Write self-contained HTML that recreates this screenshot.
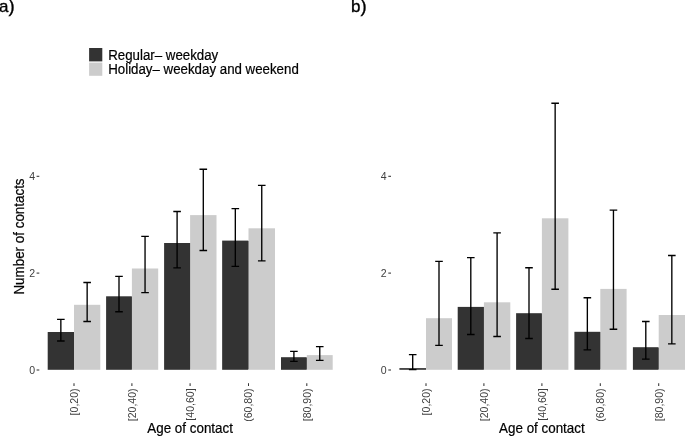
<!DOCTYPE html>
<html><head><meta charset="utf-8"><style>
html,body{margin:0;padding:0;background:#fff;}
body{width:685px;height:436px;overflow:hidden;}
svg{display:block;will-change:transform;font-family:"Liberation Sans",sans-serif;}
.yl{font-size:10.56px;fill:#404040;text-anchor:end;}
.xl{font-size:10.56px;fill:#404040;text-anchor:end;}
.tt{font-size:13.4px;fill:#000;stroke:#000;stroke-width:0.2px;}
.tk{stroke:#333;stroke-width:1.05;fill:none;}
.eb path{stroke:#000;stroke-width:1.35;fill:none;}
.lg{font-size:13.3px;fill:#000;stroke:#000;stroke-width:0.2px;}
.pl{font-size:17px;fill:#000;stroke:#000;stroke-width:0.35px;}
</style></head><body>
<svg width="685" height="436" viewBox="0 0 685 436">

<text class="pl" x="-1.0" y="12.4">a<tspan style="font-size:18.5px">)</tspan></text>
<text class="pl" x="351.0" y="12.4">b<tspan style="font-size:18.5px">)</tspan></text>
<rect x="89.1" y="48" width="13.2" height="13.4" fill="#333333"/>
<rect x="89.1" y="62.6" width="13.2" height="13.2" fill="#CCCCCC"/>
<text class="lg" transform="translate(108.2 59.8) scale(1 1.1)">Regular– weekday</text>
<text class="lg" transform="translate(108.2 73.8) scale(1 1.1)">Holiday– weekday and weekend</text>
<g>
<rect x="47.7" y="332" width="26.3" height="37.8" fill="#333333"/>
<rect x="74" y="304.8" width="26.3" height="65" fill="#CCCCCC"/>
<rect x="74" y="332" width="1" height="37" fill="#cccccc"/>
<rect x="106.1" y="296.3" width="25.8" height="73.5" fill="#333333"/>
<rect x="131.9" y="268.5" width="26.3" height="101.3" fill="#CCCCCC"/>
<rect x="131" y="297" width="1" height="72" fill="#424242"/>
<rect x="164.1" y="243" width="26" height="126.8" fill="#333333"/>
<rect x="190.1" y="215.1" width="26.4" height="154.7" fill="#CCCCCC"/>
<rect x="190" y="243" width="1" height="126" fill="#bdbdbd"/>
<rect x="222.15" y="240.6" width="26.35" height="129.2" fill="#333333"/>
<rect x="248.5" y="228.3" width="26.5" height="141.5" fill="#CCCCCC"/>
<rect x="248" y="241" width="1" height="128" fill="#808080"/>
<rect x="281" y="357.2" width="25.8" height="12.6" fill="#333333"/>
<rect x="306.8" y="355.1" width="25.9" height="14.7" fill="#CCCCCC"/>
<rect x="306" y="358" width="1" height="11" fill="#525252"/>
<rect x="399.4" y="368.1" width="26.6" height="1.7" fill="#333333"/>
<rect x="426" y="318.2" width="26" height="51.6" fill="#CCCCCC"/>
<rect x="457.7" y="306.9" width="26.2" height="62.9" fill="#333333"/>
<rect x="483.9" y="302.3" width="26.4" height="67.5" fill="#CCCCCC"/>
<rect x="483" y="307" width="1" height="62" fill="#424242"/>
<rect x="516.1" y="313.2" width="25.8" height="56.6" fill="#333333"/>
<rect x="541.9" y="218.3" width="26.5" height="151.5" fill="#CCCCCC"/>
<rect x="541" y="314" width="1" height="55" fill="#424242"/>
<rect x="574.4" y="331.8" width="25.9" height="38" fill="#333333"/>
<rect x="600.3" y="288.9" width="26.3" height="80.9" fill="#CCCCCC"/>
<rect x="600" y="332" width="1" height="37" fill="#9e9e9e"/>
<rect x="632.9" y="347.2" width="25.8" height="22.6" fill="#333333"/>
<rect x="658.7" y="315" width="26.3" height="54.8" fill="#CCCCCC"/>
<rect x="658" y="348" width="1" height="21" fill="#616161"/>
</g>
<g class="eb">
<path d="M57.05 319.4H64.65M60.85 319.4V341M57.05 341H64.65"/>
<path d="M83.35 282.5H90.95M87.15 282.5V321.5M83.35 321.5H90.95"/>
<path d="M115.2 276.3H122.8M119 276.3V311.7M115.2 311.7H122.8"/>
<path d="M141.25 236.4H148.85M145.05 236.4V292.6M141.25 292.6H148.85"/>
<path d="M173.3 211.5H180.9M177.1 211.5V267.9M173.3 267.9H180.9"/>
<path d="M199.5 169.2H207.1M203.3 169.2V250.5M199.5 250.5H207.1"/>
<path d="M231.52 208.6H239.12M235.32 208.6V266.3M231.52 266.3H239.12"/>
<path d="M257.95 185.4H265.55M261.75 185.4V260.8M257.95 260.8H265.55"/>
<path d="M290.1 351.3H297.7M293.9 351.3V361.4M290.1 361.4H297.7"/>
<path d="M315.95 346.6H323.55M319.75 346.6V360.4M315.95 360.4H323.55"/>
<path d="M408.9 354.6H416.5M412.7 354.6V369.6M408.9 369.6H416.5"/>
<path d="M435.2 261.4H442.8M439 261.4V345.3M435.2 345.3H442.8"/>
<path d="M467 257.6H474.6M470.8 257.6V334.5M467 334.5H474.6"/>
<path d="M493.3 232.9H500.9M497.1 232.9V336.5M493.3 336.5H500.9"/>
<path d="M525.2 267.7H532.8M529 267.7V338.5M525.2 338.5H532.8"/>
<path d="M551.35 103.2H558.95M555.15 103.2V289.2M551.35 289.2H558.95"/>
<path d="M583.55 297.7H591.15M587.35 297.7V349.8M583.55 349.8H591.15"/>
<path d="M609.65 210.1H617.25M613.45 210.1V329.2M609.65 329.2H617.25"/>
<path d="M642 321.5H649.6M645.8 321.5V359.1M642 359.1H649.6"/>
<path d="M668.03 255.5H675.62M671.83 255.5V343.9M668.03 343.9H675.62"/>
</g>
<path class="tk" d="M36.6 370H39.3"/>
<text class="yl" x="35" y="374">0</text>
<path class="tk" d="M36.6 273.1H39.3"/>
<text class="yl" x="35" y="277.1">2</text>
<path class="tk" d="M36.6 176.3H39.3"/>
<text class="yl" x="35" y="180.3">4</text>
<path class="tk" d="M74 383.2V386"/>
<text class="xl" transform="translate(77.8 388.4) rotate(-90)">[0,20)</text>
<path class="tk" d="M131.9 383.2V386"/>
<text class="xl" transform="translate(135.7 388.4) rotate(-90)">[20,40)</text>
<path class="tk" d="M190.1 383.2V386"/>
<text class="xl" transform="translate(193.9 388.4) rotate(-90)">[40,60]</text>
<path class="tk" d="M248.5 383.2V386"/>
<text class="xl" transform="translate(252.3 388.4) rotate(-90)">(60,80)</text>
<path class="tk" d="M306.8 383.2V386"/>
<text class="xl" transform="translate(310.6 388.4) rotate(-90)">[80,90)</text>
<text class="tt" transform="translate(190.1 432.6) scale(1 1.1)" text-anchor="middle">Age of contact</text>
<text class="tt" transform="translate(24.2 236.5) rotate(-90) scale(1 1.1)" text-anchor="middle">Number of contacts</text>
<path class="tk" d="M388.3 370H391"/>
<text class="yl" x="386.7" y="374">0</text>
<path class="tk" d="M388.3 273.1H391"/>
<text class="yl" x="386.7" y="277.1">2</text>
<path class="tk" d="M388.3 176.3H391"/>
<text class="yl" x="386.7" y="180.3">4</text>
<path class="tk" d="M426 383.2V386"/>
<text class="xl" transform="translate(429.8 388.4) rotate(-90)">[0,20)</text>
<path class="tk" d="M483.9 383.2V386"/>
<text class="xl" transform="translate(487.7 388.4) rotate(-90)">[20,40)</text>
<path class="tk" d="M541.9 383.2V386"/>
<text class="xl" transform="translate(545.7 388.4) rotate(-90)">[40,60]</text>
<path class="tk" d="M600.3 383.2V386"/>
<text class="xl" transform="translate(604.1 388.4) rotate(-90)">(60,80)</text>
<path class="tk" d="M658.7 383.2V386"/>
<text class="xl" transform="translate(662.5 388.4) rotate(-90)">[80,90)</text>
<text class="tt" transform="translate(541.9 432.6) scale(1 1.1)" text-anchor="middle">Age of contact</text>
</svg>
</body></html>
